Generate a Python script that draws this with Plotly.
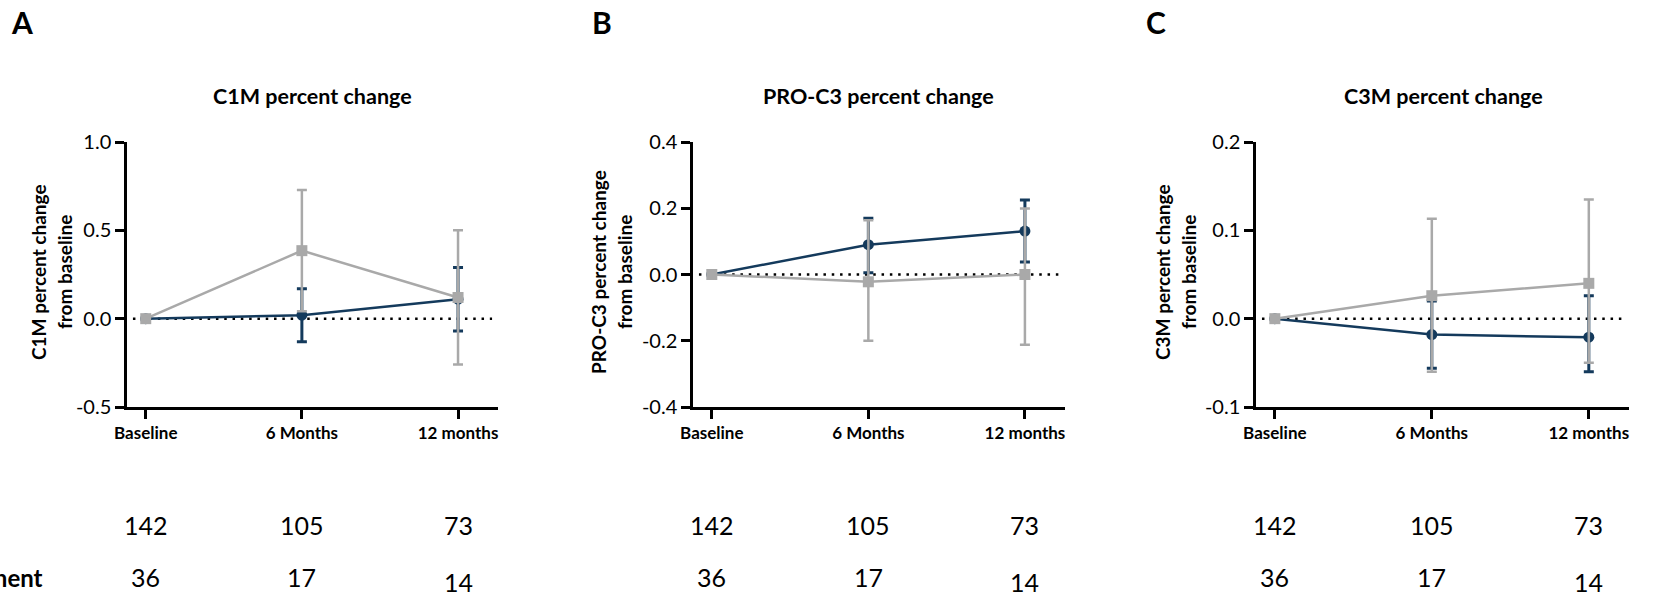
import plotly.graph_objects as go

W, H = 1676, 596

categories = ["Baseline", "6 Months", "12 months"]
xpos = [0, 1, 2]

panel_letters = ["A", "B", "C"]
titles = ["C1M percent change", "PRO-C3 percent change", "C3M percent change"]
ytitle_line1 = ["C1M percent change", "PRO-C3 percent change", "C3M percent change"]
ytitle_line2 = ["from baseline", "from baseline", "from baseline"]

# Panel A (C1M)
a_blue = [0.0, 0.02, 0.11]
a_blue_err_up = [0.0, 0.15, 0.18]
a_blue_err_dn = [0.0, 0.15, 0.18]
a_grey = [0.0, 0.385, 0.12]
a_grey_err_up = [0.0, 0.343, 0.38]
a_grey_err_dn = [0.0, 0.343, 0.38]

# Panel B (PRO-C3)
b_blue = [0.0, 0.09, 0.131]
b_blue_err_up = [0.0, 0.08, 0.094]
b_blue_err_dn = [0.0, 0.085, 0.093]
b_grey = [0.0, -0.022, 0.0]
b_grey_err_up = [0.0, 0.186, 0.199]
b_grey_err_dn = [0.0, 0.178, 0.212]

# Panel C (C3M)
c_blue = [0.0, -0.018, -0.021]
c_blue_err_up = [0.0, 0.038, 0.047]
c_blue_err_dn = [0.0, 0.038, 0.039]
c_grey = [0.0, 0.026, 0.040]
c_grey_err_up = [0.0, 0.087, 0.095]
c_grey_err_dn = [0.0, 0.086, 0.090]

y_ranges = [[-0.5, 1.0], [-0.4, 0.4], [-0.1, 0.2]]
y_tickvals = [[-0.5, 0.0, 0.5, 1.0], [-0.4, -0.2, 0.0, 0.2, 0.4], [-0.1, 0.0, 0.1, 0.2]]
y_ticktext = [["-0.5", "0.0", "0.5", "1.0"], ["-0.4", "-0.2", "0.0", "0.2", "0.4"],
              ["-0.1", "0.0", "0.1", "0.2"]]

row1_label = "Sample size"
row2_label = "Treatment"
row1_counts = [142, 105, 73]
row2_counts = [36, 17, 14]

BLUE = "#143a5c"
GREY = "#a9a9a9"
FONT = "Lato"

panels = [
    (a_blue, a_blue_err_up, a_blue_err_dn, a_grey, a_grey_err_up, a_grey_err_dn),
    (b_blue, b_blue_err_up, b_blue_err_dn, b_grey, b_grey_err_up, b_grey_err_dn),
    (c_blue, c_blue_err_up, c_blue_err_dn, c_grey, c_grey_err_up, c_grey_err_dn),
]

# pixel layout of plot areas
x_left_px = [127, 693, 1256]
x_right_px = [498, 1065, 1629]
y_top_px, y_bot_px = 142, 407
title_x_px = [312, 878, 1443]
letter_x_px = [22, 602, 1156]
ytitle1_x_px = [38, 598, 1162]
ytitle2_x_px = [64, 624, 1188]

fig = go.Figure()
annotations = []
shapes = []

for i, (bl, bup, bdn, gr, gup, gdn) in enumerate(panels):
    xa = "x" if i == 0 else f"x{i+1}"
    ya = "y" if i == 0 else f"y{i+1}"
    fig.add_trace(go.Scatter(
        x=xpos, y=bl, xaxis=xa, yaxis=ya, mode="lines+markers",
        line=dict(color=BLUE, width=2.5),
        marker=dict(symbol="circle", size=11, color=BLUE),
        error_y=dict(type="data", symmetric=False, array=bup, arrayminus=bdn,
                     color=BLUE, thickness=3, width=5),
        showlegend=False, cliponaxis=False))
    fig.add_trace(go.Scatter(
        x=xpos, y=gr, xaxis=xa, yaxis=ya, mode="lines+markers",
        line=dict(color=GREY, width=2.5),
        marker=dict(symbol="square", size=11, color=GREY),
        error_y=dict(type="data", symmetric=False, array=gup, arrayminus=gdn,
                     color=GREY, thickness=2.5, width=5),
        showlegend=False, cliponaxis=False))

    xaxis_key = "xaxis" if i == 0 else f"xaxis{i+1}"
    yaxis_key = "yaxis" if i == 0 else f"yaxis{i+1}"
    fig.layout[xaxis_key] = dict(
        domain=[x_left_px[i] / W, x_right_px[i] / W], anchor=ya, automargin=False,
        range=[-0.12, 2.256], tickvals=xpos, ticktext=categories,
        showline=True, linecolor="black", linewidth=2.5,
        ticks="outside", ticklen=9, tickwidth=2.5, tickcolor="black",
        showgrid=False, zeroline=False, fixedrange=True,
        tickfont=dict(family=FONT, size=17, color="black", weight="bold"))
    fig.layout[yaxis_key] = dict(
        domain=[1 - y_bot_px / H, 1 - y_top_px / H], anchor=xa, automargin=False,
        range=y_ranges[i], tickvals=y_tickvals[i], ticktext=y_ticktext[i],
        showline=True, linecolor="black", linewidth=2.5,
        ticks="outside", ticklen=9, tickwidth=2.5, tickcolor="black",
        showgrid=False, zeroline=False, fixedrange=True,
        tickfont=dict(family=FONT, size=20, color="black"))

    # dotted zero line
    shapes.append(dict(type="line", xref=f"{xa} domain", yref=ya, x0=0.016, x1=0.984,
                       y0=0, y1=0, line=dict(color="black", width=2.5, dash="2.5px,5.8px"),
                       layer="below"))

    annotations.append(dict(text=f"<b>{titles[i]}</b>", x=title_x_px[i] / W, y=1 - 96 / H,
                            xref="paper", yref="paper", showarrow=False,
                            xanchor="center", yanchor="middle",
                            font=dict(family=FONT, size=21.5, color="black")))
    annotations.append(dict(text=f"<b>{panel_letters[i]}</b>", x=letter_x_px[i] / W, y=1 - 22 / H,
                            xref="paper", yref="paper", showarrow=False,
                            xanchor="center", yanchor="middle",
                            font=dict(family=FONT, size=30, color="black")))
    annotations.append(dict(text=f"<b>{ytitle_line1[i]}</b>", x=ytitle1_x_px[i] / W, y=1 - 272 / H,
                            xref="paper", yref="paper", showarrow=False, textangle=-90,
                            xanchor="center", yanchor="middle",
                            font=dict(family=FONT, size=19, color="black")))
    annotations.append(dict(text=f"<b>{ytitle_line2[i]}</b>", x=ytitle2_x_px[i] / W, y=1 - 272 / H,
                            xref="paper", yref="paper", showarrow=False, textangle=-90,
                            xanchor="center", yanchor="middle",
                            font=dict(family=FONT, size=19, color="black")))
    for j in range(3):
        annotations.append(dict(text=str(row1_counts[j]), x=xpos[j], y=1 - 525 / H,
                                xref=xa, yref="paper", showarrow=False,
                                xanchor="center", yanchor="middle",
                                font=dict(family=FONT, size=25, color="black")))
        yoff = 582 if j == 2 else 577
        annotations.append(dict(text=str(row2_counts[j]), x=xpos[j], y=1 - yoff / H,
                                xref=xa, yref="paper", showarrow=False,
                                xanchor="center", yanchor="middle",
                                font=dict(family=FONT, size=25, color="black")))

# row labels, cut off at the left edge as in the source
annotations.append(dict(text=f"<b>{row1_label}</b>", x=1 / W, y=1 - 523 / H, xref="paper", yref="paper",
                        showarrow=False, xanchor="right", yanchor="middle",
                        font=dict(family=FONT, size=24, color="black")))
annotations.append(dict(text=f"<b>{row2_label}</b>", x=45 / W, y=1 - 577 / H, xref="paper", yref="paper",
                        showarrow=False, xanchor="right", yanchor="middle",
                        font=dict(family=FONT, size=24, color="black")))

fig.update_layout(
    width=W, height=H, margin=dict(l=0, r=0, t=0, b=0, autoexpand=False),
    paper_bgcolor="white", plot_bgcolor="white",
    annotations=annotations, shapes=shapes,
    font=dict(family=FONT, color="black"),
)

fig.write_html("out.html", config={"displayModeBar": False},
               post_script="document.body.style.margin='0';document.body.style.overflow='hidden';")
